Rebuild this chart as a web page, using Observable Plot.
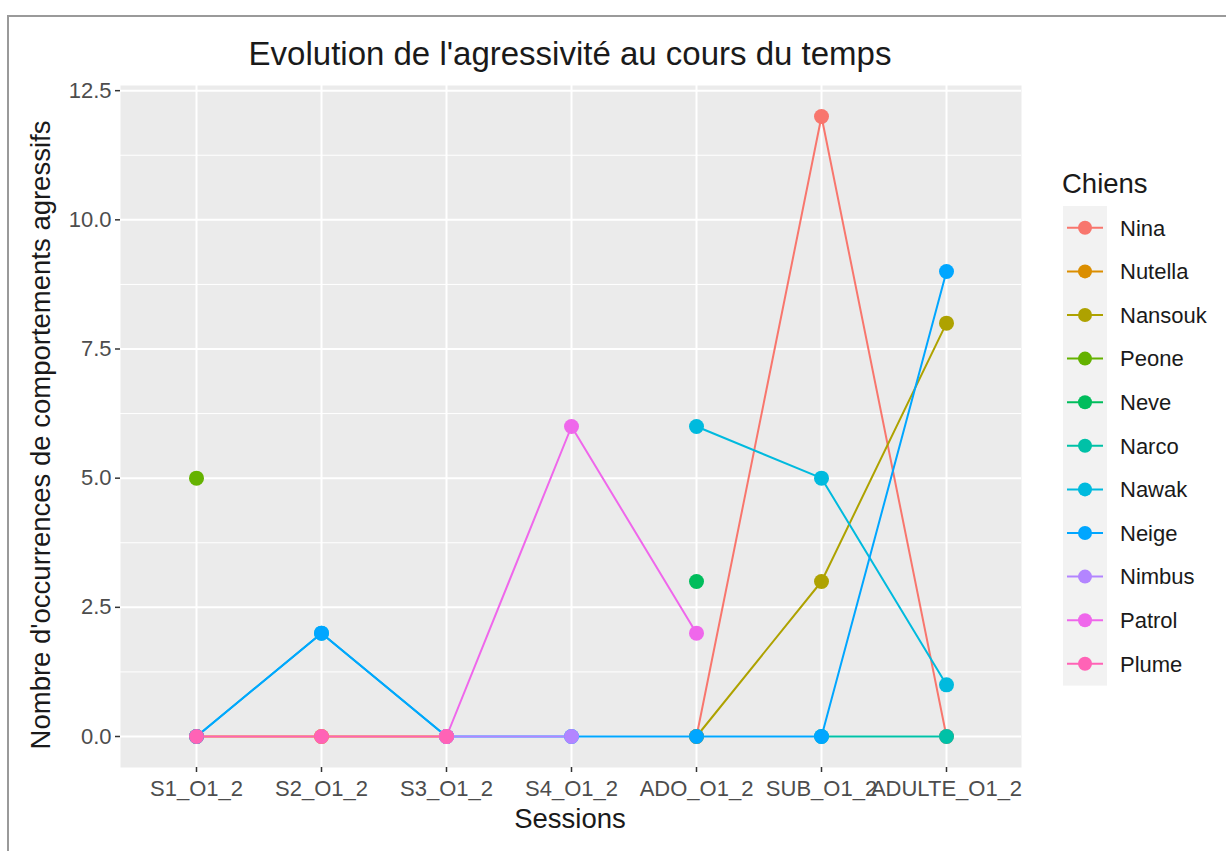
<!DOCTYPE html>
<html>
<head>
<meta charset="utf-8">
<script src="https://cdn.jsdelivr.net/npm/d3@7"></script>
<script src="https://cdn.jsdelivr.net/npm/@observablehq/plot@0.6"></script>
<style>
  html, body { margin: 0; padding: 0; background: #fff; }
  body { width: 1226px; height: 851px; position: relative; overflow: hidden; font-family: "Liberation Sans", Arial, Helvetica, sans-serif; }
  #frameTop { position: absolute; left: 8px; top: 15px; width: 1218px; height: 2px; background: #9a9a9a; }
  #frameLeft { position: absolute; left: 7px; top: 15px; width: 2px; height: 836px; background: #9a9a9a; }
  #chart { position: absolute; left: 0; top: 0; }
  .lbl { position: absolute; color: #1a1a1a; white-space: nowrap; line-height: 1; }
  #title { left: 570px; top: 53px; transform: translate(-50%, -50%); font-size: 33px; }
  #xtitle { left: 570px; top: 819px; transform: translate(-50%, -50%); font-size: 27.5px; }
  #ytitle { left: 41px; top: 435px; transform: translate(-50%, -50%) rotate(-90deg); font-size: 27.5px; }
  #legend { position: absolute; left: 0; top: 0; }
</style>
</head>
<body>
<div id="frameTop"></div>
<div id="frameLeft"></div>
<div id="chart"></div>
<div class="lbl" id="title">Evolution de l'agressivité au cours du temps</div>
<div class="lbl" id="xtitle">Sessions</div>
<div class="lbl" id="ytitle">Nombre d'occurrences de comportements agressifs</div>
<svg id="legend" width="1226" height="851"></svg>
<script>
// Sessions (x categories)
const sessions = ["S1_O1_2", "S2_O1_2", "S3_O1_2", "S4_O1_2", "ADO_O1_2", "SUB_O1_2", "ADULTE_O1_2"];
// Dogs (series)
const dogs = ["Nina", "Nutella", "Nansouk", "Peone", "Neve", "Narco", "Nawak", "Neige", "Nimbus", "Patrol", "Plume"];
const dogColors = ["#F8766D", "#DB8E00", "#AEA200", "#64B200", "#00BD5C", "#00C1A7", "#00BADE", "#00A6FF", "#B385FF", "#EF67EB", "#FF63B6"];
// values per dog, in session order (null = missing)
const nina    = [null, null, null, null, 0, 12, 0];
const nutella = [0, 0, 0, null, null, null, null];
const nansouk = [null, null, null, null, 0, 3, 8];
const peone   = [5, null, null, null, null, null, null];
const neve    = [null, null, null, null, 3, null, null];
const narco   = [null, null, null, null, null, 0, 0];
const nawak   = [0, 2, 0, null, 6, 5, 1];
const neige   = [0, 2, 0, 0, 0, 0, 9];
const nimbus  = [null, null, 0, 0, null, null, null];
const patrol  = [null, null, 0, 6, 2, null, null];
const plume   = [0, 0, 0, null, null, null, null];
// y axis ticks
const yTicks = [0, 2.5, 5, 7.5, 10, 12.5];
const yMinor = [1.25, 3.75, 6.25, 8.75, 11.25];

const series = [nina, nutella, nansouk, peone, neve, narco, nawak, neige, nimbus, patrol, plume];
const rows = [];
dogs.forEach((d, i) => {
  sessions.forEach((s, j) => rows.push({dog: d, session: s, value: series[i][j]}));
});

const W = 1226, H = 851;
const mL = 120, mR = W - 1021, mT = 85, mB = H - 767;

const plot = Plot.plot({
  width: W, height: H,
  marginLeft: mL, marginRight: mR, marginTop: mT, marginBottom: mB,
  style: {fontFamily: '"Liberation Sans", Arial, sans-serif', background: "transparent"},
  x: {type: "point", domain: sessions, padding: 0.6, label: null},
  y: {domain: [-0.6, 12.6], label: null},
  color: {domain: dogs, range: dogColors},
  marks: [
    Plot.frame({fill: "#EBEBEB", stroke: null}),
    Plot.gridY(yMinor, {stroke: "#fff", strokeOpacity: 1, strokeWidth: 1}),
    Plot.gridY(yTicks, {stroke: "#fff", strokeOpacity: 1, strokeWidth: 2}),
    Plot.gridX(sessions, {stroke: "#fff", strokeOpacity: 1, strokeWidth: 2}),
    Plot.axisY(yTicks, {tickFormat: d3.format(".1f"), tickSize: 5, tickPadding: 4, fontSize: 22, color: "#4D4D4D", stroke: "#333", strokeWidth: 1.5, label: null}),
    Plot.axisX(sessions, {tickSize: 5, tickPadding: 8, fontSize: 22, color: "#4D4D4D", stroke: "#333", strokeWidth: 1.5, label: null}),
    Plot.line(rows, {x: "session", y: "value", z: "dog", stroke: "dog", strokeWidth: 2}),
    Plot.dot(rows, {x: "session", y: "value", fill: "dog", r: 7.5, stroke: null})
  ]
});
document.getElementById("chart").appendChild(plot);

// Legend (drawn with d3 from the dogs/colours arrays)
const leg = d3.select("#legend");
leg.append("text").attr("x", 1062).attr("y", 193).attr("font-size", 27.5).attr("fill", "#1a1a1a")
  .attr("font-family", '"Liberation Sans", Arial, sans-serif').text("Chiens");
const keyTop = 206, keyH = 43.6, keyX = 1063, keyW = 44;
leg.append("rect").attr("x", keyX).attr("y", keyTop).attr("width", keyW).attr("height", keyH * dogs.length).attr("fill", "#F2F2F2");
const items = leg.selectAll("g.item").data(dogs).join("g")
  .attr("transform", (d, i) => `translate(0,${keyTop + keyH * i + keyH / 2})`);
items.append("line").attr("x1", keyX + 4).attr("x2", keyX + keyW - 4).attr("y1", 0).attr("y2", 0)
  .attr("stroke", (d, i) => dogColors[i]).attr("stroke-width", 2);
items.append("circle").attr("cx", keyX + keyW / 2).attr("cy", 0).attr("r", 7).attr("fill", (d, i) => dogColors[i]);
items.append("text").attr("x", 1120).attr("y", 0).attr("dy", "0.35em").attr("font-size", 22).attr("fill", "#1a1a1a")
  .attr("font-family", '"Liberation Sans", Arial, sans-serif').text(d => d);
</script>
</body>
</html>
